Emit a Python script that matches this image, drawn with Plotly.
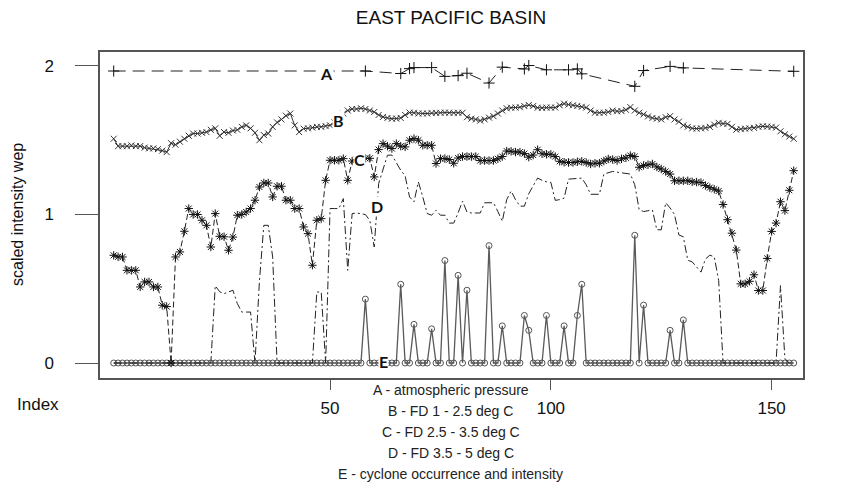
import plotly.graph_objects as go

# ---------------- data ----------------
index = list(range(1, 156))

# A - atmospheric pressure (sparse observations)
a_index = [1, 58, 66, 68, 69, 73, 76, 79, 81, 86, 89, 94, 95, 99, 104, 106, 107, 119, 121, 127, 130, 155]
a_values = [1.966, 1.966, 1.949, 1.982, 1.989, 1.989, 1.93, 1.935, 1.951, 1.885, 1.992, 1.98, 2.003,
            1.974, 1.974, 1.98, 1.947, 1.863, 1.969, 1.997, 1.987, 1.964]

# B - FD 1 - 2.5 deg C
b_values = [1.51, 1.46, 1.46, 1.46, 1.465, 1.46, 1.46, 1.45, 1.445, 1.445,
            1.44, 1.43, 1.42, 1.48, 1.47, 1.49, 1.51, 1.53, 1.545, 1.545,
            1.55, 1.555, 1.57, 1.58, 1.53, 1.555, 1.55, 1.565, 1.57, 1.59,
            1.60, 1.58, 1.55, 1.50, 1.535, 1.545, 1.59, 1.62, 1.64, 1.665,
            1.68, 1.60, 1.555, 1.578, 1.58, 1.585, 1.59, 1.59, 1.595, 1.60,
            1.62, 1.65, 1.68, 1.70, 1.71, 1.71, 1.715, 1.71, 1.70, 1.69,
            1.67, 1.657, 1.65, 1.645, 1.646, 1.65, 1.67, 1.686, 1.685, 1.68,
            1.68, 1.68, 1.683, 1.684, 1.685, 1.686, 1.685, 1.684, 1.685, 1.685,
            1.655, 1.645, 1.64, 1.632, 1.64, 1.652, 1.662, 1.68, 1.70, 1.715,
            1.719, 1.72, 1.722, 1.73, 1.737, 1.73, 1.719, 1.718, 1.72, 1.72,
            1.72, 1.735, 1.746, 1.74, 1.735, 1.731, 1.725, 1.72, 1.70, 1.685,
            1.685, 1.685, 1.69, 1.70, 1.695, 1.696, 1.705, 1.723, 1.70, 1.685,
            1.674, 1.66, 1.65, 1.645, 1.64, 1.655, 1.662, 1.64, 1.625, 1.60,
            1.59, 1.58, 1.578, 1.58, 1.583, 1.59, 1.605, 1.617, 1.612, 1.61,
            1.59, 1.571, 1.575, 1.578, 1.58, 1.583, 1.59, 1.594, 1.592, 1.59,
            1.585, 1.56, 1.54, 1.525, 1.51]

# C - FD 2.5 - 3.5 deg C
c_values = [0.725, 0.715, 0.714, 0.624, 0.624, 0.624, 0.512, 0.546, 0.546, 0.512,
            0.512, 0.389, 0.38, 0.0, 0.714, 0.748, 0.887, 1.04, 1.0, 1.0,
            0.961, 0.927, 0.781, 1.006, 0.853, 0.85, 0.759, 0.848, 0.995, 1.0,
            1.017, 1.04, 1.096, 1.185, 1.212, 1.212, 1.118, 1.19, 1.19, 1.096,
            1.096, 1.04, 1.04, 0.916, 0.871, 0.658, 0.961, 0.972, 1.23, 1.365,
            1.365, 1.365, 1.376, 1.23, 1.36, 1.37, 1.375, 1.378, 1.378, 1.253,
            1.437, 1.477, 1.46, 1.444, 1.477, 1.46, 1.455, 1.50, 1.511, 1.50,
            1.466, 1.466, 1.466, 1.343, 1.376, 1.376, 1.37, 1.345, 1.38, 1.39,
            1.39, 1.39, 1.39, 1.363, 1.363, 1.363, 1.363, 1.375, 1.39, 1.427,
            1.425, 1.42, 1.42, 1.41, 1.386, 1.40, 1.436, 1.409, 1.405, 1.405,
            1.39, 1.358, 1.352, 1.35, 1.35, 1.355, 1.358, 1.35, 1.34, 1.345,
            1.345, 1.36, 1.374, 1.37, 1.363, 1.375, 1.381, 1.397, 1.39, 1.318,
            1.33, 1.335, 1.34, 1.32, 1.306, 1.29, 1.272, 1.227, 1.227, 1.227,
            1.227, 1.22, 1.218, 1.215, 1.195, 1.181, 1.17, 1.158, 1.067, 0.965,
            0.874, 0.76, 0.533, 0.533, 0.55, 0.594, 0.488, 0.488, 0.704, 0.886,
            0.942, 1.086, 1.026, 1.163, 1.295]

# D - FD 3.5 - 5 deg C
d_values = [0, 0, 0, 0, 0, 0, 0, 0, 0, 0,
            0, 0, 0, 0, 0, 0, 0, 0, 0, 0,
            0, 0, 0, 0.52, 0.48, 0.467, 0.48, 0.49, 0.40, 0.343,
            0.343, 0.343, 0.0, 0.55, 0.927, 0.927, 0.714, 0.0, 0, 0,
            0, 0, 0, 0, 0, 0, 0.478, 0.478, 0.0, 1.04,
            1.04, 1.04, 1.107, 0.624, 1.006, 1.01, 1.005, 1.0, 0.96, 0.781,
            1.208, 1.30, 1.399, 1.40, 1.35, 1.298, 1.26, 1.118, 1.085, 1.219,
            1.118, 1.006, 0.995, 1.028, 0.995, 0.995, 0.942, 0.942, 1.011, 1.09,
            1.017, 1.01, 1.01, 1.01, 1.079, 1.079, 1.079, 1.02, 0.954, 1.10,
            1.158, 1.10, 1.056, 1.056, 1.14, 1.193, 1.245, 1.23, 1.22, 1.216,
            1.095, 1.10, 1.11, 1.238, 1.24, 1.245, 1.245, 1.2, 1.136, 1.136,
            1.136, 1.272, 1.28, 1.29, 1.285, 1.28, 1.275, 1.272, 1.20, 1.032,
            1.02, 1.025, 1.03, 0.897, 0.897, 1.079, 1.044, 1.0, 0.862, 0.85,
            0.692, 0.681, 0.65, 0.612, 0.70, 0.726, 0.715, 0.556, 0, 0,
            0, 0, 0, 0, 0, 0, 0, 0, 0, 0,
            0, 0.521, 0.03, 0, 0]

# E - cyclone occurrence and intensity (non-zero entries; zero elsewhere)
e_peak_index = [58, 66, 69, 73, 76, 79, 81, 86, 89, 94, 95, 99, 103, 106, 107, 119, 121, 127, 130]
e_peak_values = [0.43, 0.53, 0.26, 0.23, 0.69, 0.59, 0.49, 0.79, 0.25, 0.32, 0.22, 0.32, 0.25,
                 0.32, 0.53, 0.86, 0.39, 0.22, 0.29]

x_ticks = [50, 100, 150]
y_ticks = [0, 1, 2]

series_labels = ["A", "B", "C", "D", "E"]
caption_lines = ["A - atmospheric pressure",
                 "B - FD 1 - 2.5 deg C",
                 "C - FD 2.5 - 3.5 deg C",
                 "D - FD 3.5 - 5 deg C",
                 "E - cyclone occurrence and intensity"]

# ---------------- build ----------------
peak_map = dict(zip(e_peak_index, e_peak_values))
e_values = [peak_map.get(i, 0.0) for i in index]

FONT = "Liberation Sans, Arial, sans-serif"
fig = go.Figure()

fig.add_trace(go.Scatter(
    x=index, y=e_values, mode="lines+markers",
    line=dict(color="#5a5a5a", width=1.3),
    marker=dict(symbol="circle-open", size=6, color="#555555", line=dict(width=1)),
))
fig.add_trace(go.Scatter(
    x=index, y=d_values, mode="lines",
    line=dict(color="#222222", width=1, dash="8px,3px,2px,3px"),
))
fig.add_trace(go.Scatter(
    x=index, y=c_values, mode="lines+markers",
    line=dict(color="#222222", width=1, dash="6px,3px"),
    marker=dict(symbol="asterisk-open", size=7, color="#111111", line=dict(width=1, color="#111111")),
))
fig.add_trace(go.Scatter(
    x=index, y=b_values, mode="lines+markers",
    line=dict(color="#333333", width=1),
    marker=dict(symbol="x-thin-open", size=6, color="#333333", line=dict(width=1, color="#333333")),
))
fig.add_trace(go.Scatter(
    x=a_index, y=a_values, mode="lines+markers",
    line=dict(color="#222222", width=1, dash="12px,7px"),
    marker=dict(symbol="cross-thin-open", size=8, color="#111111", line=dict(width=1, color="#111111")),
))

# series labels placed on the curves
label_pos = [(49.25, 1.949), (51.8, 1.634), (56.6, 1.372), (60.6, 1.055), (62.0, 0.007)]
annotations = []
for lab, (lx, ly) in zip(series_labels, label_pos):
    annotations.append(dict(x=lx, y=ly, xref="x", yref="y", text=f"<b>{lab}</b>",
                            showarrow=False, bgcolor="white", borderpad=0,
                            font=dict(family="Lato, Open Sans, sans-serif", size=16, color="#111111")))

# caption lines under the axis
plot_top, plot_bottom = 52, 378
cap_y = [390, 411, 432, 453, 474]
for txt, py in zip(caption_lines, cap_y):
    annotations.append(dict(x=0.499, y=(plot_bottom - py) / (plot_bottom - plot_top),
                            xref="paper", yref="paper", text=txt, showarrow=False,
                            xanchor="center", yanchor="middle",
                            font=dict(family=FONT, size=14, color="#222222")))

# "Index" label and y-axis title
annotations.append(dict(x=(38 - 100) / 703, y=(plot_bottom - 404) / (plot_bottom - plot_top),
                        xref="paper", yref="paper", text="Index", showarrow=False,
                        xanchor="center", yanchor="middle",
                        font=dict(family=FONT, size=17, color="#111111")))
annotations.append(dict(x=(17 - 100) / 703, y=(plot_bottom - 215) / (plot_bottom - plot_top),
                        xref="paper", yref="paper", text="scaled intensity wep", showarrow=False,
                        textangle=-90, xanchor="center", yanchor="middle",
                        font=dict(family=FONT, size=16, color="#111111")))

fig.update_layout(
    width=846, height=483,
    margin=dict(l=100, r=43, t=52, b=105),
    paper_bgcolor="white", plot_bgcolor="white",
    showlegend=False,
    title=dict(text="EAST PACIFIC BASIN", x=451 / 846, xanchor="center", y=1 - 17 / 483,
               yanchor="middle", font=dict(family=FONT, size=19, color="#111111")),
    annotations=annotations,
    xaxis=dict(range=[-2.1, 157.1], tickvals=x_ticks, ticktext=[str(v) for v in x_ticks],
               showgrid=False, zeroline=False, showline=True, mirror=True,
               linecolor="#555555", linewidth=1.5, ticks="outside", ticklen=10,
               tickcolor="#555555", tickwidth=1.2,
               tickfont=dict(family=FONT, size=17, color="#111111"), ticklabelstandoff=4),
    yaxis=dict(range=[-0.101, 2.094], tickvals=y_ticks, ticktext=[str(v) for v in y_ticks],
               showgrid=False, zeroline=False, showline=True, mirror=True,
               linecolor="#555555", linewidth=1.5, ticks="outside", ticklen=23,
               tickcolor="#555555", tickwidth=1.2, ticklabelposition="outside",
               tickfont=dict(family=FONT, size=17, color="#111111"), ticklabelstandoff=18),
)

fig.write_html("out.html", config={"displayModeBar": False},
               post_script="document.body.style.margin='0';")
